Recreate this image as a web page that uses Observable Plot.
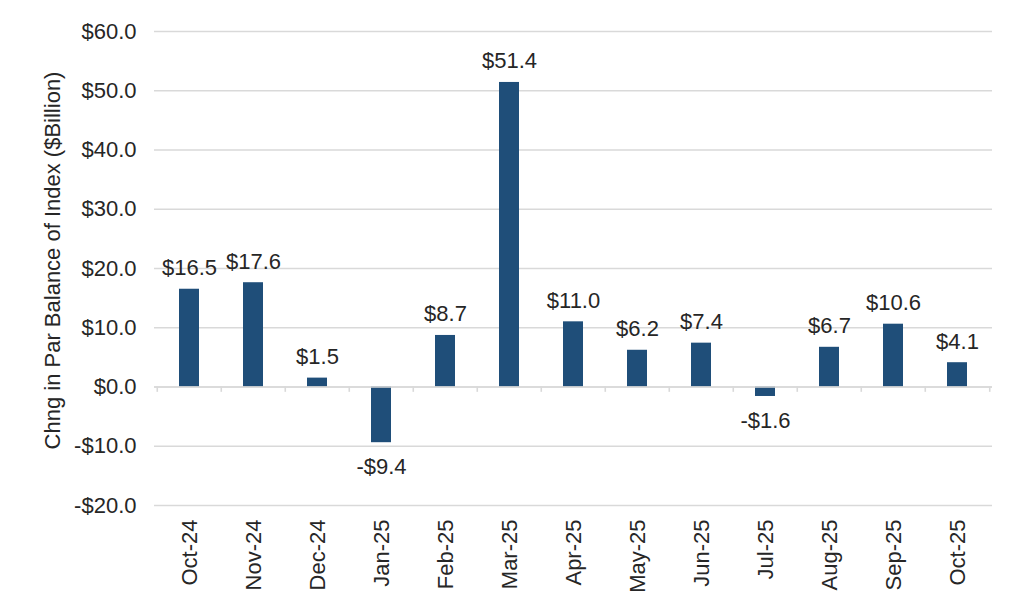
<!DOCTYPE html>
<html>
<head>
<meta charset="utf-8">
<script src="https://cdn.jsdelivr.net/npm/d3@7"></script>
<script src="https://cdn.jsdelivr.net/npm/@observablehq/plot@0.6"></script>
<style>
  html, body { margin: 0; padding: 0; background: #fff; }
  #chart svg { display: block; }
</style>
</head>
<body>
<div id="chart"></div>
<script>
const months = ["Oct-24","Nov-24","Dec-24","Jan-25","Feb-25","Mar-25","Apr-25","May-25","Jun-25","Jul-25","Aug-25","Sep-25","Oct-25"];
const values = [16.5, 17.6, 1.5, -9.4, 8.7, 51.4, 11.0, 6.2, 7.4, -1.6, 6.7, 10.6, 4.1];
const yTicks = [-20, -10, 0, 10, 20, 30, 40, 50, 60];
const yTitle = "Chng in Par Balance of Index ($Billion)";

const data = months.map((m, i) => ({month: m, value: values[i]}));
const fmt = d => (d < 0 ? "-" : "") + "$" + Math.abs(d).toFixed(1);

const W = 1024, H = 610, mL = 154, mR = 32, mT = 31, mB = 105;
const step = (W - mL - mR) / months.length;
const font = "Liberation Sans, Arial, sans-serif";
const fs = 22;

const chart = Plot.plot({
  width: W,
  height: H,
  marginLeft: mL,
  marginRight: mR,
  marginTop: mT,
  marginBottom: mB,
  style: {fontFamily: font, fontSize: fs + "px", color: "#262626", background: "#fff"},
  x: {domain: months, paddingInner: 0.69, paddingOuter: 0.345, label: null},
  y: {domain: [-20, 60], ticks: yTicks, label: null},
  marks: [
    Plot.gridY(yTicks, {stroke: "#d9d9d9", strokeOpacity: 1, strokeWidth: 1.6}),
    Plot.axisY(yTicks, {tickFormat: fmt, tickSize: 0, tickPadding: 18, fontSize: fs, label: null}),
    Plot.axisX({tickRotate: -90, tickSize: 0, tickPadding: 14, fontSize: fs, label: null}),
    Plot.barY(data, {x: "month", y: "value", fill: "#1f4e79"}),
    Plot.ruleY([0], {stroke: "#d9d9d9", strokeWidth: 1.6}),
    Plot.ruleX(months, {x: d => d, y1: () => 0, y2: () => -0.9, dx: -step / 2, stroke: "#d9d9d9", strokeWidth: 1.6}),
    Plot.ruleX([months[months.length - 1]], {x: d => d, y1: () => 0, y2: () => -0.9, dx: step / 2, stroke: "#d9d9d9", strokeWidth: 1.6}),
    Plot.text(data.filter(d => d.value >= 0), {x: "month", y: "value", text: d => fmt(d.value), lineAnchor: "bottom", dy: -14, fontSize: fs, fill: "#262626"}),
    Plot.text(data.filter(d => d.value < 0), {x: "month", y: "value", text: d => fmt(d.value), lineAnchor: "top", dy: 16, fontSize: fs, fill: "#262626"}),
    Plot.text([yTitle], {frameAnchor: "left", textAnchor: "middle", rotate: -90, dx: -(mL - 52), dy: -8, text: d => d, fontSize: 22, fill: "#262626"})
  ]
});
document.getElementById("chart").append(chart);
</script>
</body>
</html>
